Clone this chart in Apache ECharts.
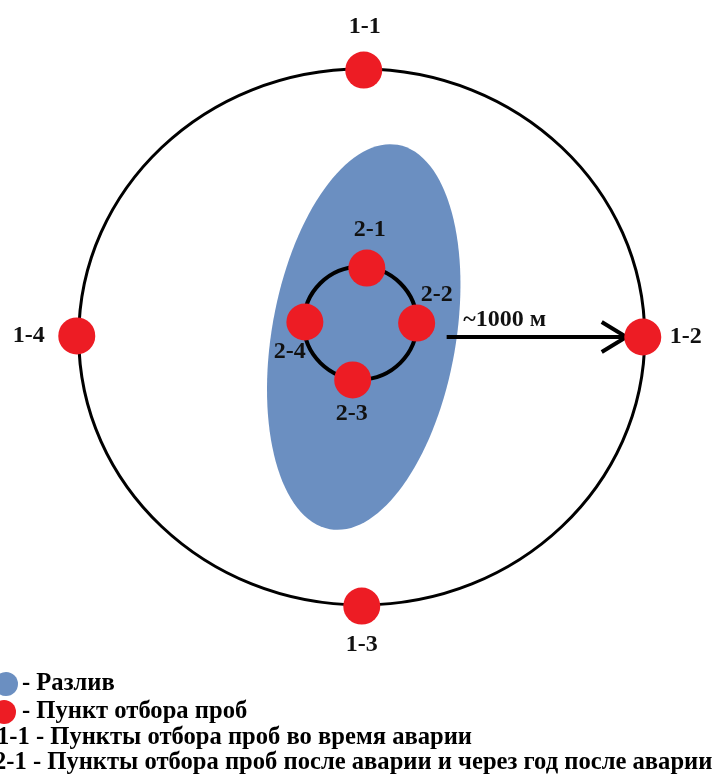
<!DOCTYPE html>
<html>
<head>
<meta charset="utf-8">
<script src="https://cdn.jsdelivr.net/npm/echarts@6/dist/echarts.min.js"></script>
<style>
html, body { margin: 0; padding: 0; background: #fff; }
#box { width: 718px; height: 782px; }
</style>
</head>
<body>
<div id="box"></div>
<script>
// all distances in metres, 0,0 = centre of the outer ring
var pointNames = ['1-1', '1-2', '1-3', '1-4', '2-1', '2-2', '2-3', '2-4'];
var pointX = [7, 993, 0, -1007, 18, 194, -32, -201];
var pointY = [996, 0, -1004, 4, 257, 52, -160, 56];

// rings: [cx, cy, rx, ry]
var outerRing = [0, 0, 1000, 1000];
var innerRing = [-5, 52, 200, 210];

// spill: [cx, cy, half width, half length, tilt in degrees]
var spill = [7, 0, 325, 728, -10];

var arrowShaft = [[300, 0], [935, 0]];
var arrowHead = [[848, 56], [935, 0], [848, -56]];
var distanceText = '~1000 м';
var distanceAt = [505, 63];

var legendLines = [
  '- Разлив',
  '- Пункт отбора проб',
  '1-1 - Пункты отбора проб во время аварии',
  '2-1 - Пункты отбора проб после аварии и через год после аварии'
];

var spillColor = '#6b8fc1';
var pointColor = '#ed1c24';
var font = 'bold 24.6px "Liberation Serif", "Times New Roman", serif';

// label offsets from the centre of each dot (px)
var labelOffsets = {
  '1-1': [1, -43], '1-2': [43, 0], '1-3': [0, 39], '1-4': [-48, 0],
  '2-1': [3, -38], '2-2': [20, -28], '2-3': [-1, 34], '2-4': [-15, 30]
};

var myChart = echarts.init(document.getElementById('box'));

function ellipseRenderer(fill, stroke, width) {
  return function (params, api) {
    var c = api.coord([api.value(0), api.value(1)]);
    var s = api.size([api.value(2), api.value(3)]);
    var tilt = api.value(4) || 0;
    return {
      type: 'ellipse',
      x: c[0],
      y: c[1],
      rotation: tilt * Math.PI / 180,
      shape: { cx: 0, cy: 0, rx: s[0], ry: s[1] },
      style: { fill: fill, stroke: stroke, lineWidth: width }
    };
  };
}

var points = pointNames.map(function (n, i) {
  return {
    name: n,
    value: [pointX[i], pointY[i]],
    label: { offset: labelOffsets[n] }
  };
});

var labelStyle = {
  show: true,
  position: 'inside',
  color: '#111',
  fontFamily: 'Liberation Serif',
  fontWeight: 'bold',
  fontSize: 24
};

var option = {
  animation: false,
  grid: { left: 8, top: 2, width: 707.5, height: 670 },
  xAxis: { type: 'value', min: -1250, max: 1250, show: false },
  yAxis: { type: 'value', min: -1250, max: 1250, show: false },
  series: [
    {
      name: 'spill',
      type: 'custom',
      clip: false,
      z: 1,
      renderItem: ellipseRenderer(spillColor, null, 0),
      data: [spill]
    },
    {
      name: 'outer',
      type: 'custom',
      clip: false,
      z: 2,
      renderItem: ellipseRenderer(null, '#000', 3),
      data: [outerRing]
    },
    {
      name: 'inner',
      type: 'custom',
      clip: false,
      z: 2,
      renderItem: ellipseRenderer(null, '#000', 4),
      data: [innerRing]
    },
    {
      name: 'arrow',
      type: 'line',
      z: 3,
      symbol: 'none',
      lineStyle: { color: '#000', width: 4 },
      data: arrowShaft
    },
    {
      name: 'arrowHead',
      type: 'line',
      z: 3,
      symbol: 'none',
      lineStyle: { color: '#000', width: 4, join: 'miter' },
      data: arrowHead
    },
    {
      name: 'note',
      type: 'scatter',
      z: 4,
      symbolSize: 0,
      itemStyle: { opacity: 1 },
      label: Object.assign({}, labelStyle, { formatter: distanceText }),
      data: [distanceAt]
    },
    {
      name: 'points',
      type: 'scatter',
      z: 5,
      symbolSize: 37,
      itemStyle: { color: pointColor, opacity: 1 },
      label: Object.assign({}, labelStyle, { formatter: '{b}' }),
      data: points
    }
  ],
  graphic: [
    { type: 'circle', shape: { cx: 6, cy: 684, r: 12 }, style: { fill: spillColor } },
    { type: 'circle', shape: { cx: 4, cy: 712, r: 12 }, style: { fill: pointColor } },
    { type: 'text', x: 22, y: 684, style: { text: legendLines[0], font: font, fill: '#000', verticalAlign: 'middle' } },
    { type: 'text', x: 22, y: 712, style: { text: legendLines[1], font: font, fill: '#000', verticalAlign: 'middle' } },
    { type: 'text', x: -3, y: 738, style: { text: legendLines[2], font: font, fill: '#000', verticalAlign: 'middle' } },
    { type: 'text', x: -6, y: 763, style: { text: legendLines[3], font: font, fill: '#000', verticalAlign: 'middle' } }
  ]
};

myChart.setOption(option);
</script>
</body>
</html>
